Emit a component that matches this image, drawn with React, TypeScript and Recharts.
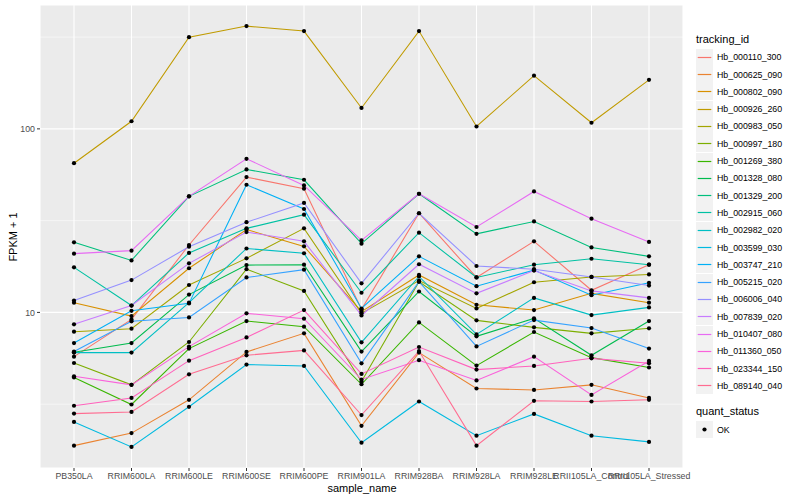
import React from 'react'
import { LineChart, Line, XAxis, YAxis, CartesianGrid, ReferenceLine } from 'recharts'

const SAMPLES = [
  'PB350LA', 'RRIM600LA', 'RRIM600LE', 'RRIM600SE', 'RRIM600PE', 'RRIM901LA',
  'RRIM928BA', 'RRIM928LA', 'RRIM928LE', 'RRII105LA_Control', 'RRII105LA_Stressed',
]

const TRACKING_IDS = [
  'Hb_000110_300', 'Hb_000625_090', 'Hb_000802_090', 'Hb_000926_260', 'Hb_000983_050',
  'Hb_000997_180', 'Hb_001269_380', 'Hb_001328_080', 'Hb_001329_200', 'Hb_002915_060',
  'Hb_002982_020', 'Hb_003599_030', 'Hb_003747_210', 'Hb_005215_020', 'Hb_006006_040',
  'Hb_007839_020', 'Hb_010407_080', 'Hb_011360_050', 'Hb_023344_150', 'Hb_089140_040',
]

// FPKM + 1, one value per sample
const HB_000110_300 = [5.74, 9.16, 23.3, 54.6, 47.2, 10.4, 34.7, 15.5, 24.4, 13.2, 18.2]
const HB_000625_090 = [1.88, 2.2, 3.34, 6.09, 7.69, 2.41, 6.04, 3.85, 3.78, 4.03, 3.42]
const HB_000802_090 = [11.3, 9.55, 17.4, 28.3, 22.9, 10.1, 16.0, 11.0, 10.3, 12.7, 11.3]
const HB_000926_260 = [65, 110, 316, 363, 341, 130, 341, 103, 195, 108, 185]
const HB_000983_050 = [7.85, 8.15, 14.1, 19.7, 28.7, 9.88, 14.9, 10.5, 14.6, 15.6, 16.1]
const HB_000997_180 = [5.3, 4.03, 6.9, 17.2, 13.1, 4.2, 14.7, 9.05, 8.29, 7.69, 8.19]
const HB_001269_380 = [4.42, 3.15, 6.35, 8.97, 8.36, 4.06, 8.82, 5.13, 7.82, 5.67, 5.01]
const HB_001328_080 = [6.06, 6.81, 12.5, 18.1, 18.2, 6.12, 13.0, 7.41, 9.28, 5.84, 8.97]
const HB_001329_200 = [24.1, 19.2, 42.9, 60.1, 52.8, 23.7, 44.3, 26.8, 31.3, 22.6, 20.2]
const HB_002915_060 = [17.6, 10.9, 21.1, 28.7, 34.1, 12.8, 27.2, 15.5, 18.2, 19.6, 18.2]
const HB_002982_020 = [6.04, 6.04, 11.3, 22.3, 21.0, 6.87, 15.7, 7.59, 12.0, 9.67, 10.65]
const HB_003599_030 = [2.53, 1.85, 3.06, 5.2, 5.11, 1.95, 3.27, 2.13, 2.8, 2.13, 1.97]
const HB_003747_210 = [6.81, 10.2, 11.2, 49.6, 36.6, 10.5, 20.2, 13.9, 17.0, 12.4, 14.5]
const HB_005215_020 = [6.12, 8.94, 9.39, 15.5, 17.1, 5.28, 14.7, 6.53, 9.08, 8.22, 6.35]
const HB_006006_040 = [11.6, 15.0, 22.8, 31.0, 39.5, 14.4, 34.7, 17.9, 17.2, 15.6, 14.0]
const HB_007839_020 = [8.61, 10.9, 18.5, 27.4, 24.4, 9.63, 18.3, 12.7, 16.9, 13.1, 12.0]
const HB_010407_080 = [20.9, 21.7, 42.9, 68.7, 49.2, 24.7, 44.3, 29.2, 45.6, 32.4, 24.2]
const HB_011360_050 = [4.49, 4.03, 6.51, 9.88, 9.24, 4.31, 5.49, 4.26, 5.74, 3.55, 5.44]
const HB_023344_150 = [3.1, 3.42, 5.46, 7.31, 10.3, 4.62, 6.48, 4.88, 5.11, 5.62, 5.28]
const HB_089140_040 = [2.81, 2.87, 4.6, 5.84, 6.21, 2.76, 6.16, 1.88, 3.3, 3.27, 3.34]

const SERIES = [
  HB_000110_300, HB_000625_090, HB_000802_090, HB_000926_260, HB_000983_050,
  HB_000997_180, HB_001269_380, HB_001328_080, HB_001329_200, HB_002915_060,
  HB_002982_020, HB_003599_030, HB_003747_210, HB_005215_020, HB_006006_040,
  HB_007839_020, HB_010407_080, HB_011360_050, HB_023344_150, HB_089140_040,
]

const Y_TICKS = [10, 100]
const Y_MINOR = [3.162, 31.62, 316.2]

// ggplot default hue palette for 20 groups
const COLORS = [
  '#F8766D', '#EA8331', '#D89000', '#C09B00', '#A3A500', '#7CAE00', '#39B600',
  '#00BB4E', '#00BF7D', '#00C1A3', '#00BFC4', '#00BAE0', '#00B0F6', '#35A2FF',
  '#9590FF', '#C77CFF', '#E76BF3', '#FA62DB', '#FF62BC', '#FF6C91',
]

const FONT = '"Liberation Sans", Arial, Helvetica, sans-serif'

const data = SAMPLES.map((s, i) => {
  const row: Record<string, string | number> = { sample: s }
  SERIES.forEach((vals, k) => { row[TRACKING_IDS[k]] = vals[i] })
  return row
})

function Legend() {
  const top = 48.7
  const step = 17.3
  return (
    <div style={{ position: 'absolute', left: 696, top: 0, fontFamily: FONT }}>
      <div style={{ position: 'absolute', top: 33, left: 0, fontSize: 11, whiteSpace: 'nowrap' }}>tracking_id</div>
      {TRACKING_IDS.map((id, i) => (
        <div key={id} style={{ position: 'absolute', top: top + i * step, left: 0, height: 17, display: 'flex', alignItems: 'center' }}>
          <svg width={17} height={17} style={{ display: 'block' }}>
            <rect x={0} y={0} width={17} height={17} fill="#F2F2F2" />
            <line x1={1.7} x2={15.3} y1={8.5} y2={8.5} stroke={COLORS[i]} strokeWidth={1.2} />
          </svg>
          <span style={{ marginLeft: 4, fontSize: 8.8, whiteSpace: 'nowrap' }}>{id}</span>
        </div>
      ))}
      <div style={{ position: 'absolute', top: 405, left: 0, fontSize: 11, whiteSpace: 'nowrap' }}>quant_status</div>
      <div style={{ position: 'absolute', top: 421, left: 0, height: 17, display: 'flex', alignItems: 'center' }}>
        <svg width={17} height={17} style={{ display: 'block' }}>
          <rect x={0} y={0} width={17} height={17} fill="#F2F2F2" />
          <circle cx={8.5} cy={8.5} r={2.1} fill="#000" />
        </svg>
        <span style={{ marginLeft: 4, fontSize: 8.8 }}>OK</span>
      </div>
    </div>
  )
}

export default function App() {
  return (
    <div style={{ position: 'absolute', left: 0, top: 0, width: 800, height: 500, background: '#fff', fontFamily: FONT }}>
      <LineChart width={800} height={500} data={data} margin={{ top: 5, right: 117, left: 0, bottom: 0 }}>
        <CartesianGrid fill="#EBEBEB" stroke="#FFFFFF" strokeWidth={1.07} />
        {Y_MINOR.map(v => (
          <ReferenceLine key={v} y={v} stroke="#FFFFFF" strokeWidth={0.55} />
        ))}
        <XAxis
          dataKey="sample"
          interval={0}
          height={32}
          padding={{ left: 34, right: 34 }}
          axisLine={false}
          tickSize={3}
          tickLine={{ stroke: '#333333' }}
          tick={{ fontSize: 8.8, fill: '#4D4D4D', fontFamily: FONT }}
        />
        <YAxis
          scale="log"
          domain={[1.42, 473]}
          allowDataOverflow
          ticks={Y_TICKS}
          width={40}
          axisLine={false}
          tickSize={3}
          tickLine={{ stroke: '#333333' }}
          tick={{ fontSize: 8.8, fill: '#4D4D4D', fontFamily: FONT }}
        />
        {TRACKING_IDS.map((id, i) => (
          <Line
            key={id}
            dataKey={id}
            type="linear"
            stroke={COLORS[i]}
            strokeWidth={1.07}
            dot={false}
            activeDot={false}
            isAnimationActive={false}
          />
        ))}
        {TRACKING_IDS.map(id => (
          <Line
            key={id + '_pt'}
            dataKey={id}
            stroke="none"
            dot={{ r: 2.1, fill: '#000000', stroke: 'none' }}
            activeDot={false}
            legendType="none"
            isAnimationActive={false}
          />
        ))}
      </LineChart>
      <div style={{ position: 'absolute', left: 13, top: 237, transform: 'translate(-50%, -50%) rotate(-90deg)', fontSize: 11, whiteSpace: 'nowrap' }}>
        FPKM + 1
      </div>
      <div style={{ position: 'absolute', left: 362, top: 488, transform: 'translate(-50%, -50%)', fontSize: 11, whiteSpace: 'nowrap' }}>
        sample_name
      </div>
      <Legend />
    </div>
  )
}
